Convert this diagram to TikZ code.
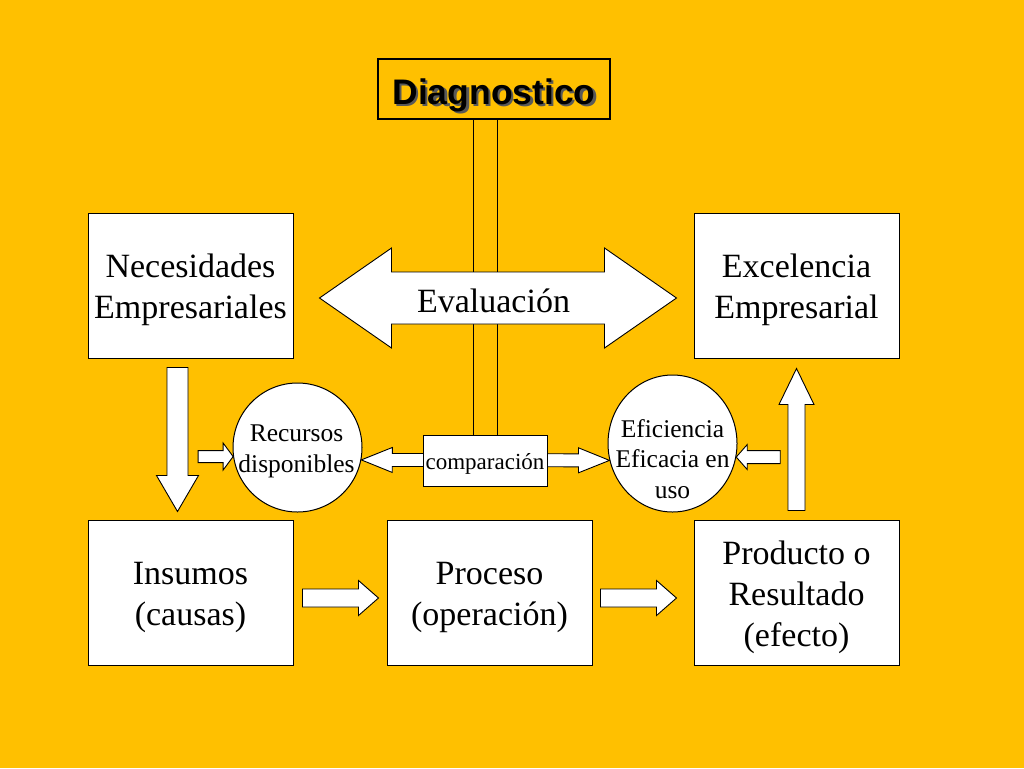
\documentclass[tikz,border=0pt]{standalone}
\usepackage{fontspec}
\setmainfont{Liberation Serif}
\newfontfamily\titlefont{Liberation Sans}
\usepackage{tikz}
\usetikzlibrary{calc,shapes.geometric}
\definecolor{gold}{RGB}{255,192,0}

% block arrow: tail, tip, half shaft, half head, head length
\newcommand{\blkarrow}[5]{%
  \coordinate (hd) at ($(#2)!#5!(#1)$);
  \draw[blockarrow] ($(#1)!#3!90:(#2)$) -- ($(hd)!#3!90:(#2)$)
    -- ($(hd)!#4!90:(#2)$) -- (#2) -- ($(hd)!#4!-90:(#2)$)
    -- ($(hd)!#3!-90:(#2)$) -- ($(#1)!#3!-90:(#2)$) -- cycle;}
% block arrow with two heads
\newcommand{\dblarrow}[5]{%
  \coordinate (ha) at ($(#1)!#5!(#2)$);
  \coordinate (hb) at ($(#2)!#5!(#1)$);
  \draw[blockarrow] (#1) -- ($(ha)!#4!90:(#2)$) -- ($(ha)!#3!90:(#2)$)
    -- ($(hb)!#3!-90:(#1)$) -- ($(hb)!#4!-90:(#1)$) -- (#2)
    -- ($(hb)!#4!90:(#1)$) -- ($(hb)!#3!90:(#1)$)
    -- ($(ha)!#3!-90:(#2)$) -- ($(ha)!#4!-90:(#2)$) -- cycle;}

\begin{document}
\begin{tikzpicture}[x=1pt,y=-1pt,
  box/.style={draw,fill=white,line width=1pt,minimum width=205pt,minimum height=145pt,
    align=center,text height=73pt,font=\fontsize{34}{41}\selectfont},
  bubble/.style={draw,fill=white,line width=1pt,inner sep=0pt},
  small/.style={align=center,inner sep=0pt,font=\fontsize{25.5}{30.5}\selectfont},
  titletext/.style={inner sep=0pt,text height=30pt,text depth=0pt,
    font=\titlefont\bfseries\fontsize{35.5}{40}\selectfont},
  blockarrow/.style={draw=black,fill=white,line width=0.9pt,line join=miter},
  rail/.style={draw=black,line width=1pt}]
\fill[gold] (0,0) rectangle (1024,768);
\useasboundingbox (0,0) rectangle (1024,768);

\node[titletext,text=black!65] (diagShadow) at (496.5,91.5) {Diagnostico};
\node[titletext,draw,line width=2.5pt,minimum width=232pt,minimum height=60pt] (diag) at (494,89) {Diagnostico};

\node[box] (neces) at (190.5,285.5) {Necesidades\\Empresariales};
\node[box] (excel) at (796.5,285.5) {Excelencia\\Empresarial};
\node[box] (insum) at (190.5,592.5) {Insumos\\(causas)};
\node[box] (proc) at (489.5,592.5) {Proceso\\(operación)};
\node[box,text height=116pt] (prod) at (796.5,592.5) {Producto o\\Resultado\\(efecto)};

\node[bubble,circle,minimum size=129pt] (recur) at (297.5,447.5) {};
\node[bubble,ellipse,minimum width=129pt,minimum height=137pt] (efic) at (672.5,443.5) {};
\node[small] (recurTxt) at ($(recur)+(-1,4)$) {Recursos\\disponibles};
\node[small] (eficTxt) at ($(efic)+(0,15.5)$) {Eficiencia\\Eficacia en\\uso};

% comparacion
\coordinate (cmpL) at (recur.-11);
\coordinate (cmpR) at (efic.195);
\dblarrow{cmpL}{cmpR}{6.5pt}{12.5pt}{31pt}
\node[draw,fill=white,line width=1pt,minimum width=124pt,minimum height=51pt,inner sep=0pt,
  text height=22pt,font=\fontsize{23}{27}\selectfont] (compar) at (485,460.5) {comparación};

\coordinate (railA) at ($(compar.north)+(-12,0)$);
\coordinate (railB) at ($(compar.north)+(12,0)$);
\draw[rail] (railA |- diag.south) -- (railA);
\draw[rail] (railB |- diag.south) -- (railB);

% evaluacion
\coordinate (evL) at ($(neces.east)+(26,12.5)$);
\coordinate (evR) at ($(excel.west)+(-17,12.5)$);
\dblarrow{evL}{evR}{26pt}{50pt}{72pt}
\node[anchor=base,inner sep=0pt,font=\fontsize{34}{40}\selectfont] (eval) at (493.5,312) {Evaluación};

\coordinate (dTail) at ($(neces.south)+(-13,9)$);
\coordinate (dTip) at ($(insum.north)+(-13,-8)$);
\blkarrow{dTail}{dTip}{10.5pt}{21pt}{36pt}
\coordinate (uTail) at ($(prod.north)+(0,-9)$);
\coordinate (uTip) at ($(excel.south)+(0,10)$);
\blkarrow{uTail}{uTip}{8.5pt}{17.5pt}{36pt}

\coordinate (rTip) at (recur.188);
\coordinate (rIn) at ($(rTip)+(-35,0)$);
\blkarrow{rIn}{rTip}{6pt}{13.5pt}{10pt}
\coordinate (eTip) at (efic.-12);
\coordinate (eIn) at ($(eTip)+(44,0)$);
\blkarrow{eIn}{eTip}{6.5pt}{12.5pt}{11pt}

\coordinate (b1Tail) at ($(insum.east)+(9,5.5)$);
\coordinate (b1Tip) at ($(proc.west)+(-8,5.5)$);
\blkarrow{b1Tail}{b1Tip}{9pt}{17.5pt}{20pt}
\coordinate (b2Tail) at ($(proc.east)+(8,5.5)$);
\coordinate (b2Tip) at ($(prod.west)+(-17,5.5)$);
\blkarrow{b2Tail}{b2Tip}{9pt}{17.5pt}{20pt}
\end{tikzpicture}
\end{document}
